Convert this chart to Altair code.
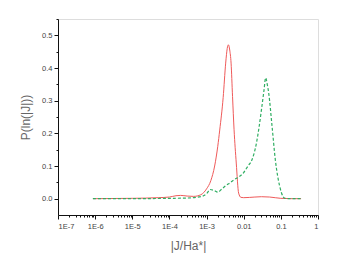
import altair as alt
import pandas as pd

red_x = [8.7e-7, 1e-6, 1e-5, 5e-5, 1e-4, 1.5e-4, 2e-4, 3e-4, 4.5e-4, 7e-4, 1e-3, 1.3e-3,
         1.65e-3, 2.0e-3, 2.26e-3, 2.8e-3, 3.27e-3, 3.6e-3, 3.87e-3, 4.2e-3, 4.57e-3, 5.0e-3,
         5.5e-3, 6.3e-3, 7.3e-3, 8.4e-3, 0.01, 0.02, 0.03, 0.05, 0.1, 0.2, 0.35]
red_y = [0, 0, 0.001, 0.003, 0.005, 0.009, 0.010, 0.008, 0.007, 0.012, 0.03, 0.055,
         0.10, 0.16, 0.21, 0.31, 0.415, 0.46, 0.471, 0.455, 0.415, 0.313,
         0.211, 0.109, 0.017, 0.004, 0.003, 0.005, 0.006, 0.005, 0.001, 0, 0]

green_x = [8.7e-7, 1e-5, 1e-4, 3e-4, 7e-4, 1e-3, 1.25e-3, 1.6e-3, 2.0e-3, 2.6e-3, 3.3e-3,
           4.2e-3, 5.5e-3, 7.7e-3, 0.01, 0.013, 0.0167, 0.022, 0.026, 0.030, 0.035, 0.039,
           0.043, 0.047, 0.058, 0.071, 0.093, 0.114, 0.13, 0.2, 0.35]
green_y = [0, 0, 0.001, 0.002, 0.006, 0.015, 0.028, 0.025, 0.02, 0.03, 0.04,
           0.048, 0.058, 0.068, 0.08, 0.10, 0.119, 0.17, 0.22, 0.272, 0.33, 0.37,
           0.35, 0.324, 0.221, 0.119, 0.038, 0.007, 0.001, 0, 0]

x_major = [1e-7, 1e-6, 1e-5, 1e-4, 1e-3, 1e-2, 1e-1, 1]
x_labels = ["1E-7", "1E-6", "1E-5", "1E-4", "1E-3", "0.01", "0.1", "1"]
x_minor = [m * 10.0 ** d for d in range(-7, 0) for m in range(2, 10)]
y_major = [0.0, 0.1, 0.2, 0.3, 0.4, 0.5]
y_minor = [0.05, 0.15, 0.25, 0.35, 0.45, 0.55]

red = pd.DataFrame({"x": red_x, "y": red_y})
green = pd.DataFrame({"x": green_x, "y": green_y})

FONT = "Liberation Sans"
lab_expr = "{" + ",".join(f"'{v:g}':'{l}'" for v, l in zip(x_major, x_labels)) + "}[format(datum.value,'g')]"
label_map = " : ".join(f"abs(datum.value-{v})<{v}*1e-6 ? '{l}'" for v, l in zip(x_major, x_labels)) + " : ''"

xscale = alt.Scale(type="log", domain=[1e-7, 1], nice=False)
yscale = alt.Scale(domain=[-0.05, 0.55], nice=False, zero=False)

xaxis = alt.Axis(values=x_major, labelExpr=label_map, orient="bottom", tickSize=4,
                 labelFont=FONT, labelFontSize=7.5, labelColor="#444", labelPadding=3,
                 domainColor="#111", tickColor="#111", grid=False,
                 title="|J/Ha*|", titleFont=FONT, titleFontSize=12, titleFontWeight="normal",
                 titleColor="#666", titleY=30, titleBaseline="middle")
yaxis = alt.Axis(values=y_major, format=".1f", orient="left", tickSize=4,
                 labelFont=FONT, labelFontSize=7.5, labelColor="#444", labelPadding=2,
                 domainColor="#111", tickColor="#111", grid=False,
                 title="P(ln(|J|))", titleFont=FONT, titleFontSize=12, titleFontWeight="normal",
                 titleColor="#666", titleX=-33, titleY=98, titleBaseline="middle")

xminor_axis = alt.Axis(values=x_minor, labels=False, domain=False, orient="bottom", tickSize=2,
                       tickColor="#111", grid=False, title=None)
yminor_axis = alt.Axis(values=y_minor, labels=False, domain=False, orient="left", tickSize=2,
                       tickColor="#111", grid=False, title=None)

red_line = alt.Chart(red).mark_line(color="#ef5a5a", strokeWidth=1, interpolate="monotone").encode(
    x=alt.X("x:Q", scale=xscale, axis=xaxis),
    y=alt.Y("y:Q", scale=yscale, axis=yaxis),
)
green_line = alt.Chart(green).mark_line(color="#2fae62", strokeWidth=1.2, strokeDash=[3, 2],
                                        interpolate="monotone").encode(
    x=alt.X("x:Q", scale=xscale, axis=xminor_axis),
    y=alt.Y("y:Q", scale=yscale, axis=yminor_axis),
)

chart = alt.layer(red_line, green_line).resolve_axis(x="independent", y="independent").properties(
    width=260, height=196,
    autosize=alt.AutoSizeParams(type="none"),
    padding={"left": 50, "top": 11, "right": 21, "bottom": 50},
).configure_view(stroke=None).configure(background="white")

chart.save("out.html", embed_options={"renderer": "svg", "actions": False})
